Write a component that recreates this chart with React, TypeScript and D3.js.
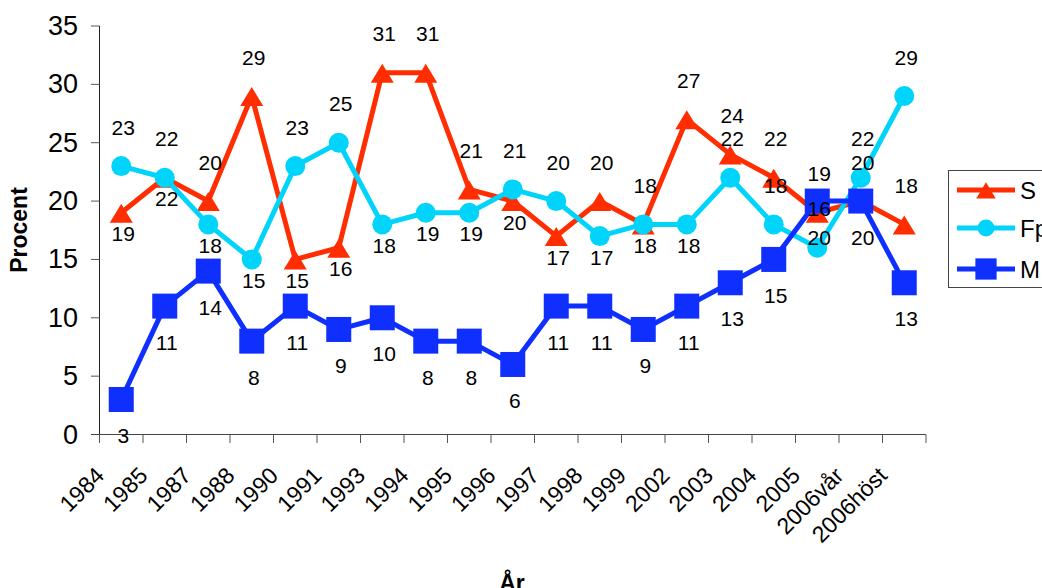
import React from "react";
import * as d3 from "d3";

// Categories (x axis)
const years = ["1984", "1985", "1987", "1988", "1990", "1991", "1993", "1994", "1995", "1996", "1997", "1998", "1999", "2002", "2003", "2004", "2005", "2006vår", "2006höst"];

// Series values (procent)
const sValues = [19, 22, 20, 29, 15, 16, 31, 31, 21, 20, 17, 20, 18, 27, 24, 22, 19, 20, 18];
const fpValues = [23, 22, 18, 15, 23, 25, 18, 19, 19, 21, 20, 17, 18, 18, 22, 18, 16, 22, 29];
const mValues = [3, 11, 14, 8, 11, 9, 10, 8, 8, 6, 11, 11, 9, 11, 13, 15, 20, 20, 13];

// label placement per point: a = above, b = below
const sLabelPos = ["b", "b", "a", "a", "b", "b", "a", "a", "a", "b", "b", "a", "a", "a", "a", "a", "a", "a", "a"];
const fpLabelPos = ["a", "a", "b", "b", "a", "a", "b", "b", "b", "a", "a", "b", "b", "b", "a", "a", "a", "a", "a"];
const mLabelPos = years.map(() => "b");

const yTicks = [0, 5, 10, 15, 20, 25, 30, 35];

const W = 1042;
const H = 588;

const RED = "#ff2d00";
const CYAN = "#00d4fa";
const BLUE = "#0f2fff";

type Kind = "tri" | "circle" | "square";

function Marker({ kind, x, y, color, scale = 1 }: { kind: Kind; x: number; y: number; color: string; scale?: number }) {
    if (kind === "tri") {
        const hw = 11.5 * scale;
        return <path d={`M${x},${y - 9 * scale}L${x + hw},${y + 10 * scale}L${x - hw},${y + 10 * scale}Z`} fill={color} />;
    }
    if (kind === "circle") {
        return <circle cx={x} cy={y} r={10 * scale} fill={color} />;
    }
    const h = 12.5 * scale;
    return <rect x={x - h} y={y - h} width={2 * h} height={2 * h} fill={color} />;
}

export default function App() {
    const x = d3.scaleBand<string>().domain(years).range([99.5, 926]).padding(0);
    const y = d3.scaleLinear().domain([0, 35]).range([434.5, 26]);
    const cx = (i: number) => (x(years[i]) || 0) + x.bandwidth() / 2;

    const line = d3
        .line<number>()
        .x((d, i) => cx(i))
        .y((d) => y(d));

    const series = [
        { name: "S", values: sValues, pos: sLabelPos, color: RED, kind: "tri" as Kind, below: 21 },
        { name: "Fp", values: fpValues, pos: fpLabelPos, color: CYAN, kind: "circle" as Kind, below: 21 },
        { name: "M", values: mValues, pos: mLabelPos, color: BLUE, kind: "square" as Kind, below: 36 },
    ];

    const boundaries = years.map((c) => x(c) || 0).concat([926]);

    return (
        <svg width={W} height={H} style={{ position: "absolute", left: 0, top: 0, background: "#fff" }} fontFamily="Liberation Sans, Arial, sans-serif">
            {/* y axis */}
            <line x1={99.5} x2={99.5} y1={26} y2={434.5} stroke="#222" strokeWidth={1} />
            {yTicks.map((t) => (
                <g key={t}>
                    <line x1={91} x2={99.5} y1={y(t)} y2={y(t)} stroke="#555" strokeWidth={1} />
                    <text x={78} y={y(t)} textAnchor="end" dominantBaseline="central" fontSize={27} fill="#000">
                        {t}
                    </text>
                </g>
            ))}
            {/* x axis */}
            <line x1={91} x2={926} y1={434.5} y2={434.5} stroke="#444" strokeWidth={1} />
            {boundaries.map((b, i) => (
                <line key={i} x1={b} x2={b} y1={434.5} y2={443} stroke="#555" strokeWidth={1} />
            ))}
            {years.map((c) => (
                <text key={c} transform={`translate(${(x(c) || 0) + 6},${477}) rotate(-45)`} textAnchor="end" fontSize={23} fill="#000">
                    {c}
                </text>
            ))}

            {/* series */}
            {series.map((s) => (
                <g key={s.name}>
                    <path d={line(s.values) || ""} fill="none" stroke={s.color} strokeWidth={5} strokeLinejoin="round" />
                    {s.values.map((v, i) => (
                        <Marker key={i} kind={s.kind} x={cx(i)} y={y(v)} color={s.color} />
                    ))}
                </g>
            ))}

            {/* data labels */}
            {series.map((s) =>
                s.values.map((v, i) => (
                    <text
                        key={s.name + i}
                        x={cx(i) + 2}
                        y={y(v) + (s.pos[i] === "a" ? -39 : s.below)}
                        textAnchor="middle"
                        dominantBaseline="central"
                        fontSize={21}
                        fill="#000"
                    >
                        {v}
                    </text>
                ))
            )}

            {/* axis titles */}
            <text transform="translate(18.5,230) rotate(-90)" textAnchor="middle" dominantBaseline="central" fontSize={23} fontWeight="bold">
                Procent
            </text>
            <text x={512} y={591} textAnchor="middle" fontSize={23} fontWeight="bold">
                År
            </text>

            {/* legend */}
            <rect x={948.5} y={170.5} width={200} height={117} fill="#fff" stroke="#444" strokeWidth={1} />
            {series.map((s, i) => {
                const ly = [190, 228, 269][i];
                return (
                    <g key={s.name}>
                        <line x1={957} x2={1015} y1={ly} y2={ly} stroke={s.color} strokeWidth={5} />
                        <Marker kind={s.kind} x={986} y={ly} color={s.color} scale={0.85} />
                        <text x={1020} y={ly} dominantBaseline="central" fontSize={24} fill="#000">
                            {s.name}
                        </text>
                    </g>
                );
            })}
        </svg>
    );
}
